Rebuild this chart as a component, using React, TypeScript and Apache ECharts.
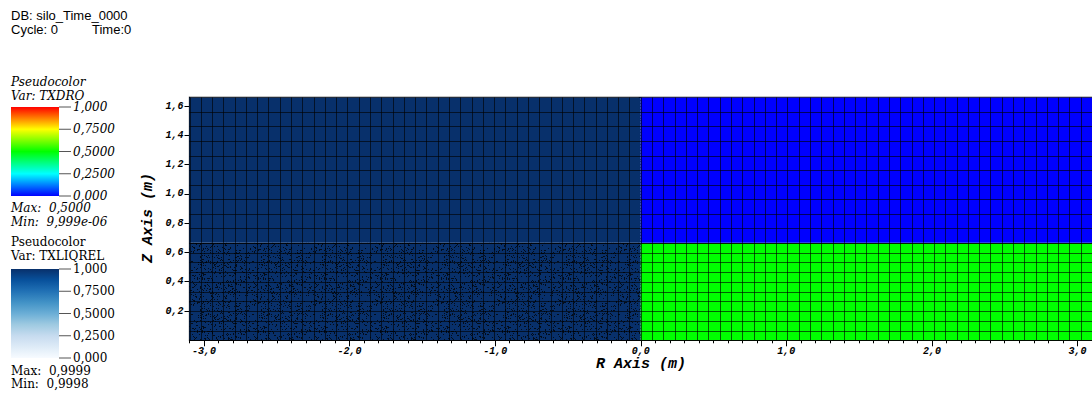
import React, { useEffect, useRef } from "react";
import * as echarts from "echarts";

// Mesh blocks: r edges, z edges and cell counts per block
const rEdges = [-3.1, 0, 3.1];
const zEdges = [0, 0.666, 1.66];
const cellsR = [40, 40];
const cellsZ = [10, 10];
// Variable values per block row: [lower, upper]
const txliqrelLeft = [0.9999, 0.9999];
const txdroRight = [0.5, 0.00001];
const speckledLeft = [1, 0];

const xTicks = [-3, -2, -1, 0, 1, 2, 3];
const yTicks = [0.2, 0.4, 0.6, 0.8, 1.0, 1.2, 1.4, 1.6];
const legendValues = [1, 0.75, 0.5, 0.25, 0];
const legendLabels = ["1,000", "0,7500", "0,5000", "0,2500", "0,000"];
const rainbow = ["#0000ff", "#00ffff", "#00ff00", "#ffff00", "#ff0000"];
const blues = ["#f7fbff", "#deebf7", "#c6dbef", "#9ecae1", "#6baed6", "#4292c6", "#2171b5", "#08519c", "#08306b"];

const SERIF = "DejaVu Serif";
const MONO = "Liberation Mono";

function makeSpeckle(): HTMLCanvasElement {
  const c = document.createElement("canvas");
  c.width = 61;
  c.height = 53;
  const ctx = c.getContext("2d")!;
  for (let y = 0; y < c.height; y++) {
    for (let x = 0; x < c.width; x++) {
      let h = (x * 374761393 + y * 668265263) | 0;
      h = Math.imul(h ^ (h >>> 13), 1274126177);
      h = (h ^ (h >>> 16)) >>> 0;
      if (h % 100 < 13) {
        ctx.fillStyle = "rgba(0,0,0,0.75)";
        ctx.fillRect(x, y, 1, 1);
      }
    }
  }
  return c;
}

export default function App() {
  const ref = useRef<HTMLDivElement>(null);
  useEffect(() => {
    if (!ref.current) return;
    const chart = echarts.init(ref.current, undefined, { renderer: "svg" });
    const speckle = makeSpeckle();

    const leftData = [0, 1].map((j) => [
      rEdges[0], rEdges[1], zEdges[j], zEdges[j + 1], txliqrelLeft[j], cellsR[0], cellsZ[j], speckledLeft[j],
    ]);
    const rightData = [0, 1].map((j) => [
      rEdges[1], rEdges[2], zEdges[j], zEdges[j + 1], txdroRight[j], cellsR[1], cellsZ[j], 0,
    ]);

    const renderCells = (params: any, api: any) => {
      const r0 = api.value(0), r1 = api.value(1), z0 = api.value(2), z1 = api.value(3);
      const nR = api.value(5), nZ = api.value(6), speck = api.value(7);
      const a = api.coord([r0, z0]);
      const b = api.coord([r1, z1]);
      const x = a[0], y = b[1], w = b[0] - a[0], h = a[1] - b[1];
      const children: any[] = [
        { type: "rect", shape: { x, y, width: w, height: h }, style: { fill: api.visual("color") } },
      ];
      if (speck) {
        children.push({
          type: "rect",
          shape: { x, y, width: w, height: h },
          style: { fill: { image: speckle, repeat: "repeat" } },
        });
      }
      const stroke = "rgba(0,0,0,0.62)";
      for (let i = 0; i <= nR; i++) {
        const p = api.coord([r0 + (i * (r1 - r0)) / nR, z0]);
        const px = Math.round(p[0]) + 0.5;
        children.push({ type: "line", shape: { x1: px, y1: y, x2: px, y2: y + h }, style: { stroke, lineWidth: 1 } });
      }
      for (let j = 0; j <= nZ; j++) {
        const p = api.coord([r0, z0 + (j * (z1 - z0)) / nZ]);
        const py = Math.round(p[1]) + 0.5;
        children.push({ type: "line", shape: { x1: x, y1: py, x2: x + w, y2: py }, style: { stroke, lineWidth: 1 } });
      }
      return { type: "group", children };
    };

    const minorX: number[] = [];
    for (let k = -31; k <= 31; k++) minorX.push(k / 10);
    const minorY: number[] = [];
    for (let k = 0; k <= 83; k++) minorY.push(k / 50);

    const fmt = (v: number) => v.toFixed(1).replace(".", ",");

    const legendText = (x: number, y: number, text: string, italic: boolean) => ({
      type: "text",
      x,
      y,
      style: {
        text,
        fill: "#000",
        font: `${italic ? "italic " : ""}12px "${SERIF}"`,
        textVerticalAlign: "middle",
      },
    });

    const bar = (top: number, bottom: number, colors: string[], italic: boolean) => {
      const els: any[] = [
        {
          type: "rect",
          shape: { x: 11, y: top, width: 48, height: bottom - top },
          style: {
            fill: {
              type: "linear", x: 0, y: 0, x2: 0, y2: 1,
              colorStops: colors.slice().reverse().map((c, i, arr) => ({ offset: i / (arr.length - 1), color: c })),
            },
          },
        },
      ];
      legendValues.forEach((v, i) => {
        const yy = bottom - v * (bottom - top);
        els.push({ type: "line", shape: { x1: 59, y1: yy, x2: 71, y2: yy }, style: { stroke: "#555", lineWidth: 1 } });
        els.push(legendText(73, yy, legendLabels[i], italic));
      });
      return els;
    };

    const graphic: any[] = [
      { type: "text", x: 11, y: 15, style: { text: "DB: silo_Time_0000", font: '13px "Liberation Sans"', fill: "#000", textVerticalAlign: "middle" } },
      { type: "text", x: 11, y: 29, style: { text: "Cycle: 0", font: '13px "Liberation Sans"', fill: "#000", textVerticalAlign: "middle" } },
      { type: "text", x: 92, y: 29, style: { text: "Time:0", font: '13px "Liberation Sans"', fill: "#000", textVerticalAlign: "middle" } },
      legendText(11, 82, "Pseudocolor", true),
      legendText(11, 96, "Var: TXDRO", true),
      ...bar(107, 196, rainbow, true),
      legendText(11, 208, "Max:  0,5000", true),
      legendText(11, 222, "Min:  9,999e-06", true),
      legendText(11, 242, "Pseudocolor", false),
      legendText(11, 256, "Var: TXLIQREL", false),
      ...bar(269, 358, blues, false),
      legendText(11, 371, "Max:  0,9999", false),
      legendText(11, 384, "Min:  0,9998", false),
      {
        type: "text", x: 641, y: 364,
        style: { text: "R Axis (m)", font: `italic bold 15px "${MONO}"`, fill: "#000", textAlign: "center", textVerticalAlign: "middle" },
      },
      {
        type: "text", x: 148, y: 218, rotation: Math.PI / 2,
        style: { text: "Z Axis (m)", font: `italic bold 15px "${MONO}"`, fill: "#000", textAlign: "center", textVerticalAlign: "middle" },
      },
    ];

    const tickLabelFont = { fontFamily: MONO, fontWeight: "bold" as const, fontStyle: "italic" as const, fontSize: 10, color: "#000" };

    chart.setOption({
      animation: false,
      backgroundColor: "#fff",
      grid: { left: 189.5, right: -2.6, top: 97.3, bottom: 53.7, show: true, borderColor: "#888", borderWidth: 1.5 },
      visualMap: [
        { type: "continuous", show: false, seriesIndex: 0, dimension: 4, min: 0, max: 1, inRange: { color: blues } },
        { type: "continuous", show: false, seriesIndex: 1, dimension: 4, min: 0, max: 1, inRange: { color: rainbow } },
      ],
      xAxis: [
        {
          type: "value", min: -3.1, max: 3.1, position: "bottom",
          axisLine: { show: true, onZero: false, lineStyle: { color: "#000", width: 1 } },
          axisTick: { show: true, customValues: xTicks, length: 6, lineStyle: { color: "#000" } },
          axisLabel: { show: true, customValues: xTicks, formatter: fmt, margin: 6, ...tickLabelFont },
          splitLine: { show: false },
        },
        {
          type: "value", min: -3.1, max: 3.1, position: "bottom",
          axisLine: { show: false },
          axisTick: { show: true, customValues: minorX, length: 3, lineStyle: { color: "#000" } },
          axisLabel: { show: false },
          splitLine: { show: false },
        },
      ],
      yAxis: [
        {
          type: "value", min: 0, max: 1.66, position: "left",
          axisLine: { show: true, onZero: false, lineStyle: { color: "#000", width: 1 } },
          axisTick: { show: true, customValues: yTicks, length: 5, lineStyle: { color: "#000" } },
          axisLabel: { show: true, customValues: yTicks, formatter: fmt, margin: 6, ...tickLabelFont },
          splitLine: { show: false },
        },
        {
          type: "value", min: 0, max: 1.66, position: "left",
          axisLine: { show: false },
          axisTick: { show: true, customValues: minorY, length: 2, lineStyle: { color: "#000" } },
          axisLabel: { show: false },
          splitLine: { show: false },
        },
      ],
      series: [
        {
          type: "custom", name: "TXLIQREL", coordinateSystem: "cartesian2d", xAxisIndex: 0, yAxisIndex: 0,
          renderItem: renderCells, encode: { x: [0, 1], y: [2, 3] }, data: leftData, clip: true, silent: true,
        },
        {
          type: "custom", name: "TXDRO", coordinateSystem: "cartesian2d", xAxisIndex: 0, yAxisIndex: 0,
          renderItem: renderCells, encode: { x: [0, 1], y: [2, 3] }, data: rightData, clip: true, silent: true,
        },
      ],
      graphic,
    });
    return () => chart.dispose();
  }, []);
  return <div ref={ref} style={{ position: "fixed", left: 0, top: 0, width: 1092, height: 394 }} />;
}
